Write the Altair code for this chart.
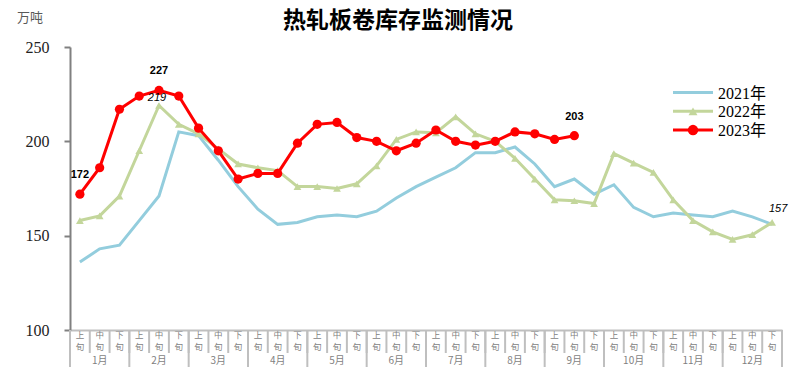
import altair as alt
import pandas as pd

title_text = "热轧板卷库存监测情况"
unit_text = "万吨"
months = ["1月", "2月", "3月", "4月", "5月", "6月", "7月", "8月", "9月", "10月", "11月", "12月"]
periods = ["上旬", "中旬", "下旬"]
years = ["2021年", "2022年", "2023年"]
colors = ["#93CDDD", "#C3D69B", "#FF0000"]

y2021 = [136, 143, 145, 158, 171, 205, 203, 190, 176, 164, 156, 157, 160, 161, 160, 163, 170, 176,
         181, 186, 194, 194, 197, 188, 176, 180, 172, 177, 165, 160, 162, 161, 160, 163, 160, 156]
y2022 = [158, 160.5, 171, 195, 219, 209, 204, 196, 188, 186, 184.5, 176, 176, 175, 177.5, 187, 201, 205,
         204.5, 213, 204, 200, 191, 180, 169, 168.5, 167, 193.5, 188.5, 183.5, 169, 158, 152, 148, 150.5, 157]
y2023 = [172, 186, 217, 224, 227, 224, 207, 195, 180, 183, 183, 199, 209, 210, 202, 200, 195, 199,
         206, 200, 198, 200, 205, 204, 201, 203]

# labelled points: (series, index)
label_points = [("2023年", 0), ("2023年", 4), ("2023年", 25), ("2022年", 4), ("2022年", 35)]

series = {"2021年": y2021, "2022年": y2022, "2023年": y2023}
rows = []
for yr in years:
    for i, v in enumerate(series[yr]):
        rows.append({"year": yr, "pos": i + 0.5, "value": v})
df = pd.DataFrame(rows)

lab = pd.DataFrame([{"year": yr, "pos": i + 0.5, "value": series[yr][i],
                     "text": str(int(round(series[yr][i])))} for yr, i in label_points])

cats = pd.DataFrame({"pos": [k + 0.5 for k in range(36)],
                     "top": [p[0] for m in months for p in periods],
                     "bottom": [p[1] for m in months for p in periods]})
month_df = pd.DataFrame({"pos": [3 * k + 1.5 for k in range(12)], "label": months})
bounds = pd.DataFrame({"b": list(range(37))})
bounds["long"] = bounds["b"] % 3 == 0

xs = alt.Scale(domain=[0, 36], nice=False, zero=False)
ys = alt.Scale(domain=[100, 250], nice=False, zero=False)
xaxis = alt.Axis(domain=True, domainColor="#BFBFBF", domainWidth=2, ticks=False, labels=False,
                 grid=False, title=None)
yaxis = alt.Axis(values=[100, 150, 200, 250], domainColor="#808080", domainWidth=2,
                 tickColor="#808080", tickWidth=2, tickSize=6, labelFont="Liberation Serif",
                 labelFontSize=16, labelColor="#222222", labelPadding=15, grid=False, title=None)
X = alt.X("pos:Q", scale=xs, axis=xaxis)
Y = alt.Y("value:Q", scale=ys, axis=yaxis)

base = alt.Chart(df)
layers = []
for yr, c in zip(years, colors):
    layers.append(base.transform_filter(alt.datum.year == yr)
                  .mark_line(color=c, strokeWidth=3).encode(x=X, y=Y))

tri = base.transform_filter(alt.datum.year == "2022年").mark_point(
    shape="triangle-up", filled=True, size=60, color=colors[1], opacity=1).encode(x=X, y=Y)
dots = base.transform_filter(alt.datum.year == "2023年").mark_point(
    shape="circle", filled=True, size=85, color=colors[2], opacity=1).encode(x=X, y=Y)

# manual legend
legend_df = pd.DataFrame({"year": years})
leg_layers = []
leg_shapes = [None, "triangle-up", "circle"]
leg_sizes = [0, 80, 110]
for k, (yr, c, shp, sz) in enumerate(zip(years, colors, leg_shapes, leg_sizes)):
    ly = 45.5 + 18.8 * k
    lc = alt.Chart(legend_df).transform_filter(alt.datum.year == yr)
    leg_layers.append(lc.mark_rule(color=c, strokeWidth=3).encode(
        x=alt.value(603), x2=alt.value(643), y=alt.value(ly)))
    if shp:
        leg_layers.append(lc.mark_point(shape=shp, filled=True, size=sz, color=c, opacity=1).encode(
            x=alt.value(623), y=alt.value(ly)))
    leg_layers.append(lc.mark_text(font="Liberation Serif, Noto Sans CJK SC", fontSize=16,
                                   color="black", align="left", baseline="middle").encode(
        x=alt.value(648), y=alt.value(ly + 1), text="year:N"))

lab_base = alt.Chart(lab)
bold_lab = lab_base.transform_filter(alt.datum.year == "2023年").mark_text(
    font="Liberation Sans", fontSize=11, fontWeight="bold", color="black", dy=-19).encode(
    x=X, y=Y, text="text:N")
it1 = lab_base.transform_filter((alt.datum.year == "2022年") & (alt.datum.pos < 10)).mark_text(
    font="Liberation Sans", fontSize=11, fontStyle="italic", color="black", dy=-7, dx=-2).encode(
    x=X, y=Y, text="text:N")
it2 = lab_base.transform_filter((alt.datum.year == "2022年") & (alt.datum.pos > 30)).mark_text(
    font="Liberation Sans", fontSize=11, fontStyle="italic", color="black", dy=-13, dx=6).encode(
    x=X, y=Y, text="text:N")

bx = alt.X("b:Q", scale=xs, axis=xaxis)
short_rules = alt.Chart(bounds).mark_rule(color="#BFBFBF", strokeWidth=2).encode(
    x=bx, y=alt.value(283), y2=alt.value(306))
long_rules = alt.Chart(bounds).transform_filter(alt.datum.long).mark_rule(
    color="#BFBFBF", strokeWidth=2).encode(x=bx, y=alt.value(283), y2=alt.value(320))

cat_top = alt.Chart(cats).mark_text(font="Noto Sans CJK SC", fontSize=8.5, baseline="middle",
                                    color="#7F7F7F").encode(
    x=X, y=alt.value(287.5), text="top:N")
cat_bottom = alt.Chart(cats).mark_text(font="Noto Sans CJK SC", fontSize=8.5, baseline="middle",
                                       color="#7F7F7F").encode(
    x=X, y=alt.value(300), text="bottom:N")
month_text = alt.Chart(month_df).mark_text(font="Noto Sans CJK SC", fontSize=10,
                                           baseline="middle", color="#7F7F7F").encode(
    x=X, y=alt.value(314), text="label:N")

tdf = pd.DataFrame({"t": [title_text], "u": [unit_text]})
title_mark = alt.Chart(tdf).mark_text(font="Noto Sans CJK SC", fontSize=23, fontWeight="bold",
                                      color="black", baseline="middle").encode(
    x=alt.value(328), y=alt.value(-26), text="t:N")
unit_mark = alt.Chart(tdf).mark_text(font="Noto Sans CJK SC", fontSize=13, color="#595959",
                                     baseline="middle").encode(
    x=alt.value(-40), y=alt.value(-29), text="u:N")

chart = alt.layer(short_rules, long_rules, *layers, tri, dots, bold_lab, it1, it2,
                  cat_top, cat_bottom, month_text, title_mark, unit_mark, *leg_layers).properties(
    width=712, height=283,
    autosize=alt.AutoSizeParams(type="none"),
    padding={"left": 70, "top": 47, "right": 25, "bottom": 48},
    background="white",
).configure_view(stroke=None)

chart.save("out.html", embed_options={"renderer": "svg", "actions": False})
